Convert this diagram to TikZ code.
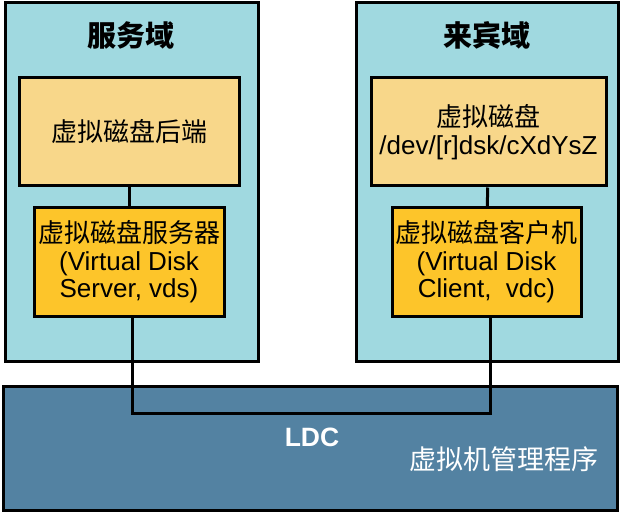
\documentclass[tikz,border=0pt]{standalone}
\usepackage{xcolor}
\usepackage{fontspec}
\setmainfont{Liberation Sans}
\newfontfamily\cjk{Noto Sans CJK SC}
\usepackage{tikz}
\usetikzlibrary{positioning, calc}

\definecolor{domcyan}{HTML}{A0D9E0}
\definecolor{diskpale}{HTML}{F8D78A}
\definecolor{drvgold}{HTML}{FDC52A}
\definecolor{hypblue}{HTML}{5382A2}

\begin{document}
\begin{tikzpicture}[x=1pt, y=-1pt,
	box/.style={draw=black, line width=3pt, inner sep=0pt},
	dombox/.style={box, fill=domcyan},
	diskbox/.style={box, fill=diskpale},
	drvbox/.style={box, fill=drvgold},
	txt/.style={align=center, font=\fontsize{26}{27.5}\selectfont},
	domtitle/.style={font=\cjk\bfseries\fontsize{29}{30}\selectfont}]
	
	%//page frame
	\useasboundingbox (0,0) rectangle (621,513);
	
	%//hypervisor layer
	\node (hyper) [box, fill=hypblue, minimum width=614pt, minimum height=124pt] at (310,448) {};
	\node (ldc) [font=\bfseries\fontsize{26.5}{28}\selectfont, text=white] at (312,437) {LDC};
	\node (hvname) [font=\cjk\fontsize{27}{28}\selectfont, text=white] at (504,459) {虚拟机管理程序};
	
	%//domains
	\node (servdom) [dombox, minimum width=253pt, minimum height=358pt] at (131.5,182) {};
	\node (guestdom) [dombox, minimum width=262pt, minimum height=358pt] at (487,182) {};
	\node (servtitle) [domtitle] at (131,35) {服务域};
	\node (guesttitle) [domtitle] at (487,35) {来宾域};
	
	%//disks and drivers
	\node (backend) [diskbox, txt, minimum width=220pt, minimum height=108pt] at (129,132)
		{{\cjk 虚拟磁盘后端}};
	\node (vdisk) [diskbox, txt, minimum width=235pt, minimum height=108pt] at (488.5,132)
		{{\cjk 虚拟磁盘}\\/dev/[r]dsk/cXdYsZ};
	\node (vds) [drvbox, txt, minimum width=190pt, minimum height=108pt] at (129,262)
		{{\cjk 虚拟磁盘服务器}\\(Virtual Disk\\Server, vds)};
	\node (vdc) [drvbox, txt, minimum width=189pt, minimum height=108pt] at (486.5,262)
		{{\cjk 虚拟磁盘客户机}\\(Virtual Disk\\Client,~ vdc)};
	
	%//links
	\coordinate (bend) at (0,413);
	\draw [line width=3pt] (backend) -- (vds);
	\draw [line width=3pt] ([xshift=3pt]vds.south) -- ([xshift=3pt]vds.south |- bend)
		-- ([xshift=3.5pt]vdc.south |- bend) -- ([xshift=3.5pt]vdc.south);
	\draw [line width=3pt] (vdisk) -- (vdc);
\end{tikzpicture}
\end{document}
